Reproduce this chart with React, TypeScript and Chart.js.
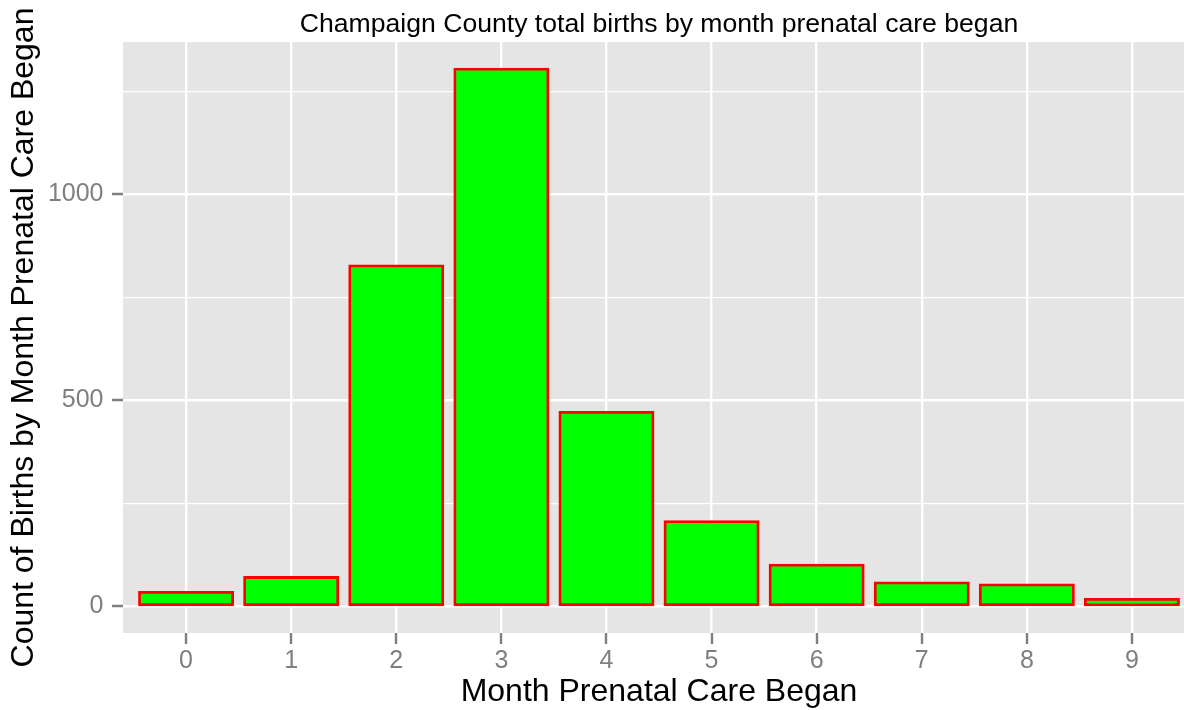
import React, { useEffect, useRef } from "react";
import { Chart, registerables } from "chart.js";

Chart.register(...registerables);

const TITLE = "Champaign County total births by month prenatal care began";
const X_TITLE = "Month Prenatal Care Began";
const Y_TITLE = "Count of Births by Month Prenatal Care Began";

const months = [0, 1, 2, 3, 4, 5, 6, 7, 8, 9];
const births = [34, 70, 827, 1305, 471, 206, 100, 57, 52, 17];
const yTicks = [0, 250, 500, 750, 1000, 1250];
const yLabelTicks = [0, 500, 1000];

const FONT = "'Liberation Sans', Arial, Helvetica, sans-serif";
const PANEL = "#E5E5E5";
const TICK_GREY = "#7F7F7F";
const TICK_LEN = 11;

const panelPlugin = {
  id: "panelBg",
  beforeDraw(chart: any) {
    const { ctx, chartArea } = chart;
    ctx.save();
    ctx.fillStyle = PANEL;
    ctx.fillRect(chartArea.left, chartArea.top, chartArea.right - chartArea.left, chartArea.bottom - chartArea.top);
    ctx.restore();
  },
  afterDraw(chart: any) {
    const { ctx, chartArea, scales } = chart;
    ctx.save();
    // axis tick marks (outside the panel)
    ctx.strokeStyle = TICK_GREY;
    ctx.lineWidth = 2.4;
    ctx.beginPath();
    months.forEach((m) => {
      const px = Math.round(scales.x.getPixelForValue(m));
      ctx.moveTo(px, chartArea.bottom);
      ctx.lineTo(px, chartArea.bottom + TICK_LEN);
    });
    yLabelTicks.forEach((v) => {
      const py = Math.round(scales.y.getPixelForValue(v));
      ctx.moveTo(chartArea.left - TICK_LEN, py);
      ctx.lineTo(chartArea.left, py);
    });
    ctx.stroke();
    // title centred over the panel
    ctx.fillStyle = "#000";
    ctx.font = `26.6px ${FONT}`;
    ctx.textAlign = "center";
    ctx.textBaseline = "alphabetic";
    ctx.fillText(TITLE, (chartArea.left + chartArea.right) / 2, 31.5);
    ctx.restore();
  },
};

export default function App() {
  const ref = useRef<HTMLCanvasElement>(null);

  useEffect(() => {
    document.body.style.margin = "0";
    const canvas = ref.current!;
    const chart = new Chart(canvas, {
      type: "bar",
      data: {
        datasets: [
          {
            data: months.map((m, i) => ({ x: m, y: births[i] })),
            backgroundColor: "#00FF00",
            borderColor: "#FF0000",
            borderWidth: 2.8,
            inflateAmount: 1.2,
            borderSkipped: false,
            barPercentage: 0.89,
            categoryPercentage: 1,
          },
        ],
      },
      plugins: [panelPlugin],
      options: {
        animation: false,
        responsive: false,
        devicePixelRatio: 1,
        layout: { padding: { top: 42, right: 5, left: 0, bottom: 0 } },
        plugins: {
          legend: { display: false },
          tooltip: { enabled: false },
          title: { display: false },
        },
        scales: {
          x: {
            type: "linear",
            min: -0.6,
            max: 9.6,
            offset: false,
            afterBuildTicks: (scale: any) => {
              scale.ticks = months.map((v) => ({ value: v }));
            },
            ticks: {
              color: TICK_GREY,
              font: { family: FONT, size: 25, lineHeight: 1.2 },
              padding: 2,
              autoSkip: false,
              maxRotation: 0,
              callback: (v: any) => String(v),
            },
            grid: {
              offset: false,
              color: "#FFFFFF",
              lineWidth: 2.4,
              tickLength: TICK_LEN,
              tickColor: "rgba(0,0,0,0)",
              drawTicks: true,
            },
            border: { display: false },
            title: {
              display: true,
              text: X_TITLE,
              color: "#000",
              font: { family: FONT, size: 32, lineHeight: 0.9 },
              padding: { top: 0, bottom: 3.2 },
            },
          },
          y: {
            type: "linear",
            min: -65.25,
            max: 1370.25,
            afterBuildTicks: (scale: any) => {
              scale.ticks = yTicks.map((v) => ({ value: v }));
            },
            ticks: {
              color: TICK_GREY,
              font: { family: FONT, size: 25 },
              padding: 8.5,
              autoSkip: false,
              callback: (v: any) => (yLabelTicks.includes(v) ? String(v) : ""),
            },
            grid: {
              color: "#FFFFFF",
              lineWidth: (ctx: any) => (yLabelTicks.includes(ctx.tick?.value) ? 2.4 : 1.2),
              tickLength: TICK_LEN,
              tickColor: "rgba(0,0,0,0)",
              drawTicks: true,
            },
            border: { display: false },
            title: {
              display: true,
              text: Y_TITLE,
              color: "#000",
              font: { family: FONT, size: 32, lineHeight: 0.9 },
              padding: { top: 9.4, bottom: 1.2 },
            },
          },
        },
      },
    });
    return () => chart.destroy();
  }, []);

  return (
    <div style={{ position: "absolute", left: 0, top: 0, width: 1184, height: 710, overflow: "hidden", background: "#fff" }}>
      <canvas ref={ref} width={1200} height={710} style={{ width: 1200, height: 710, display: "block" }} />
    </div>
  );
}
